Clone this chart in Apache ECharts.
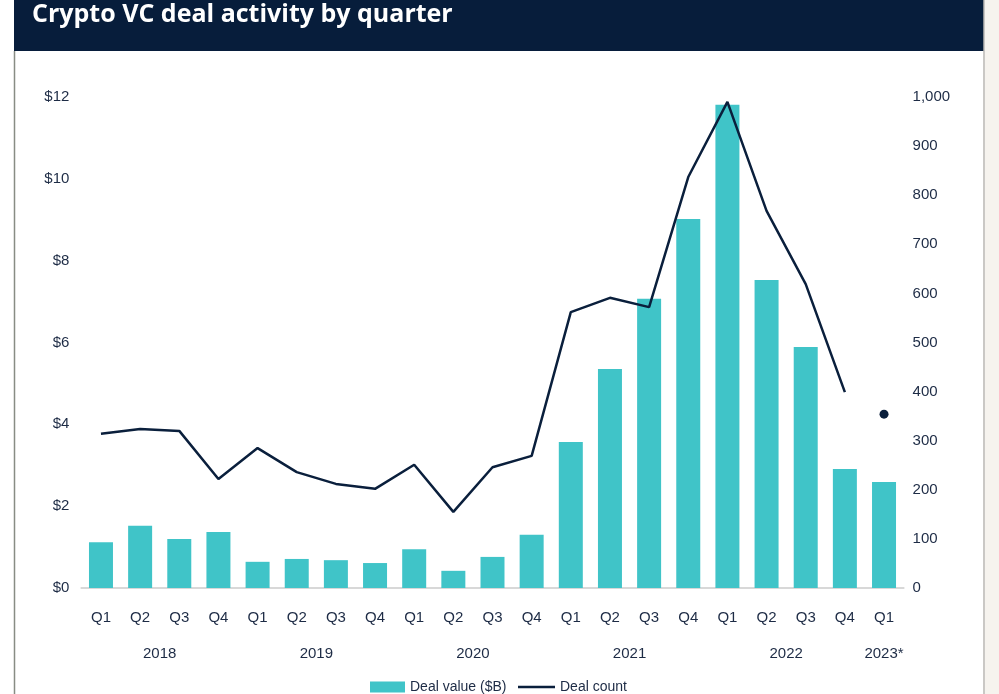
<!DOCTYPE html>
<html><head><meta charset="utf-8">
<script src="https://cdn.jsdelivr.net/npm/echarts@6/dist/echarts.min.js"></script>
<style>html,body{margin:0;padding:0;background:#fff}#c{width:999px;height:694px}</style>
</head><body><div id="c"></div>
<script>
const quarters = ['Q1','Q2','Q3','Q4','Q1','Q2','Q3','Q4','Q1','Q2','Q3','Q4','Q1','Q2','Q3','Q4','Q1','Q2','Q3','Q4','Q1'];
const yearLabels = [['2018',1.5],['2019',5.5],['2020',9.5],['2021',13.5],['2022',17.5],['2023*',20]];
const dealValue = [1.12,1.52,1.2,1.37,0.64,0.71,0.68,0.61,0.95,0.42,0.76,1.3,3.57,5.35,7.07,9.02,11.81,7.53,5.89,2.91,2.59];
const dealCount = [314,324,320,222,285,236,212,202,251,155,246,269,562,591,572,837,990,768,619,399,null];
const dealCount2023 = [null,null,null,null,null,null,null,null,null,null,null,null,null,null,null,null,null,null,null,null,354];
const leftTicks = {min:0,max:12,interval:2};
const rightTicks = {min:0,max:1000,interval:100};

const FONT = '"Liberation Sans Narrow","Liberation Sans",sans-serif';
const TXT = '#1d2b45';
const NAVY = '#0a1f3c';
const TEAL = '#40c4c8';
const chart = echarts.init(document.getElementById('c'), null, {renderer:'canvas'});
const yearMap = {};
yearLabels.forEach(([t,v]) => yearMap[v.toFixed(1)] = t);
chart.setOption({
  animation:false,
  textStyle:{fontFamily:FONT},
  graphic:[
    {type:'rect', shape:{x:985,y:0,width:14,height:694}, style:{fill:'#f6f3ee'}, z:-1},
    {type:'rect', shape:{x:14,y:0,width:970,height:51}, style:{fill:'#071d3b'}},
    {type:'line', shape:{x1:14.5,y1:51,x2:14.5,y2:694}, style:{stroke:'#888c84',lineWidth:1.5}},
    {type:'line', shape:{x1:984,y1:0,x2:984,y2:694}, style:{stroke:'#b8b6b2',lineWidth:1.5}},
    {type:'text', left:32, top:2, style:{text:'Crypto VC deal activity by quarter', fill:'#fff', font:'bold 25px "Open Sans", sans-serif'}}
  ],
  grid:{left:81.4, right:95.4, top:97, bottom:106, containLabel:false},
  legend:[
    {left:365, top:675, itemWidth:35, itemHeight:11, itemGap:5,
     textStyle:{color:TXT, fontSize:14, fontFamily:FONT},
     data:[{name:'Deal value ($B)', icon:'rect'}]},
    {left:513, top:675, itemWidth:37, itemHeight:2.5, itemGap:5,
     textStyle:{color:TXT, fontSize:14, fontFamily:FONT},
     data:[{name:'Deal count', icon:'rect'}]}
  ],
  xAxis:[
    {type:'category', data:quarters, axisTick:{show:false},
     axisLine:{lineStyle:{color:'#d8d8d8',width:2}},
     axisLabel:{color:TXT, fontSize:15, margin:22, fontFamily:FONT}},
    {type:'value', position:'bottom', offset:36, min:-0.5, max:20.5, interval:0.5,
     axisLine:{show:false}, axisTick:{show:false}, splitLine:{show:false},
     axisLabel:{color:TXT, fontSize:15, margin:22, fontFamily:FONT, showMinLabel:true, showMaxLabel:true,
       formatter:v => yearMap[v.toFixed(1)] || ''}}
  ],
  yAxis:[
    {type:'value', ...leftTicks, splitLine:{show:false}, axisLine:{show:false}, axisTick:{show:false},
     axisLabel:{color:TXT, fontSize:15, margin:12, fontFamily:FONT, formatter:v => '$' + v}},
    {type:'value', ...rightTicks, splitLine:{show:false}, axisLine:{show:false}, axisTick:{show:false},
     axisLabel:{color:TXT, fontSize:15, margin:9, fontFamily:FONT, formatter:v => v.toLocaleString('en-US')}}
  ],
  series:[
    {name:'Deal value ($B)', type:'bar', data:dealValue, barWidth:24, itemStyle:{color:TEAL}, yAxisIndex:0, xAxisIndex:0},
    {name:'Deal count', type:'line', data:dealCount, yAxisIndex:1, xAxisIndex:0, showSymbol:false, symbol:'none',
     lineStyle:{color:NAVY, width:2.5}, itemStyle:{color:NAVY}, z:5},
    {name:'Deal count 2023', type:'scatter', data:dealCount2023, yAxisIndex:1, xAxisIndex:0, symbolSize:9,
     itemStyle:{color:NAVY, opacity:1}, z:5}
  ]
});
</script></body></html>
